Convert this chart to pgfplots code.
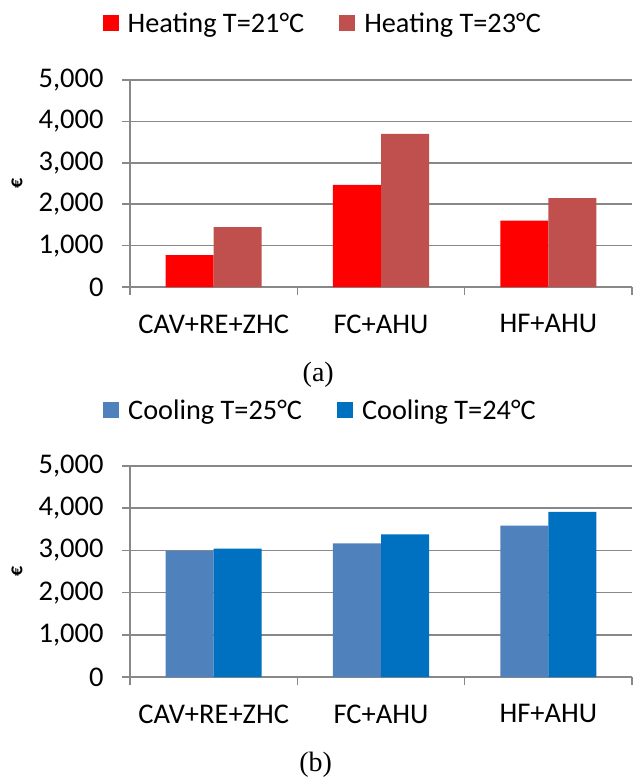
\documentclass[border=0pt]{standalone}
\usepackage{fontspec}
\setmainfont{Carlito}
\newfontfamily\seriffont{Liberation Serif}
\usepackage{pgfplots}
\pgfplotsset{compat=1.18}
\definecolor{hA}{HTML}{FF0000}
\definecolor{hB}{HTML}{C0504D}
\definecolor{cA}{HTML}{4F81BD}
\definecolor{cB}{HTML}{0070C0}
\definecolor{gridc}{HTML}{888888}
\pgfplotsset{mystyle/.style={
  scale only axis, width=502pt,
  ybar=0pt, bar width=0.287,
  xmin=-0.5, xmax=2.5, ymin=0, ymax=5000,
  xtick={0,1,2}, xticklabels={CAV+RE+ZHC,FC+AHU,HF+AHU},
  minor xtick={-0.5,0.5,1.5,2.5},
  ytick={0,1000,...,5000},
  axis lines=left, axis line style={-, draw=gridc, line width=1.5pt},
  ymajorgrids, major grid style={draw=gridc, line width=1.5pt},
  tick align=outside, major tick length=8pt, minor tick length=8pt,
  major x tick style={draw=none},
  minor x tick style={draw=gridc, line width=1.5pt},
  major y tick style={draw=gridc, line width=1.5pt},
  ticklabel style={font=\fontsize{28.5}{32}\selectfont, text=black},
  yticklabel style={xshift=-15pt, /pgf/number format/.cd, 1000 sep={,}, assume math mode=true},
  xticklabel style={yshift=-16pt},
  ylabel={\textbf{€}},
  ylabel style={font=\fontsize{20}{24}\selectfont, at={(axis description cs:-0.225,0.5)}, anchor=center},
  legend columns=2,
  legend style={draw=none, fill=none, anchor=center,
    font=\fontsize{28.3}{32}\selectfont,
    /tikz/every odd column/.append style={column sep=7pt},
    /tikz/every even column/.append style={column sep=33pt}},
  legend image code/.code={\fill[#1] (0pt,-8pt) rectangle (16pt,8pt);},
  xlabel style={font=\seriffont\fontsize{28}{32}\selectfont, anchor=center},
}}
\begin{document}
\begin{tikzpicture}
\useasboundingbox (0,0) rectangle (634pt,-777pt);
\begin{axis}[mystyle, height=207pt, at={(130pt,-287pt)}, anchor=south west,
  legend style={at={(axis description cs:0.384,1.275)}},
  xlabel={(a)}, xlabel style={at={(axis description cs:0.375,-0.425)}}]
\addplot[fill=hA, draw=none] coordinates {(0,770) (1,2470) (2,1605)};
\addplot[fill=hB, draw=none] coordinates {(0,1445) (1,3700) (2,2145)};
\legend{Heating T=21°C, Heating T=23°C}
\end{axis}
\begin{axis}[mystyle, height=211pt, at={(130pt,-677pt)}, anchor=south west,
  legend style={at={(axis description cs:0.3795,1.265)}},
  xlabel={(b)}, xlabel style={at={(axis description cs:0.37,-0.417)}}]
\addplot[fill=cA, draw=none] coordinates {(0,2990) (1,3165) (2,3585)};
\addplot[fill=cB, draw=none] coordinates {(0,3045) (1,3380) (2,3915)};
\legend{Cooling T=25°C, Cooling T=24°C}
\end{axis}
\end{tikzpicture}
\end{document}
